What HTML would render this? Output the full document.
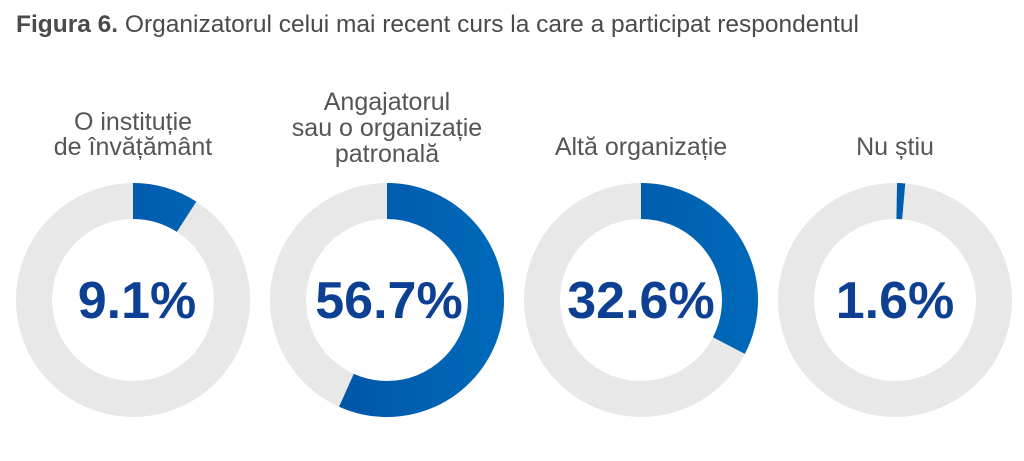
<!DOCTYPE html>
<html><head><meta charset="utf-8"><style>
body{margin:0;background:#fff;width:1024px;height:456px;overflow:hidden;font-family:"Liberation Sans",Arial,sans-serif}
</style></head><body>
<svg width="1024" height="456" xmlns="http://www.w3.org/2000/svg" font-family="Liberation Sans, Arial, sans-serif">
<defs><linearGradient id="g" x1="0" y1="0" x2="0" y2="1"><stop offset="0" stop-color="#0050a4"/><stop offset="1" stop-color="#0068b8"/></linearGradient></defs>
<text x="16" y="32" font-size="24.5" fill="#4a4a4a"><tspan font-weight="bold">Figura 6.</tspan> Organizatorul celui mai recent curs la care a participat respondentul</text>
<g font-size="25" fill="#555" text-anchor="middle">
<text x="133" y="130">O instituție</text><text x="133" y="155">de învățământ</text>
<text x="387" y="110">Angajatorul</text><text x="387" y="136">sau o organizație</text><text x="387" y="162">patronală</text>
<text x="641" y="155">Altă organizație</text>
<text x="895" y="155">Nu știu</text>
</g>
<g fill="none" stroke-width="36">
<circle cx="133" cy="300" r="99" stroke="#e8e8e8"/>
<circle cx="387" cy="300" r="99" stroke="#e8e8e8"/>
<circle cx="641" cy="300" r="99" stroke="#e8e8e8"/>
<circle cx="895" cy="300" r="99" stroke="#e8e8e8"/>
<circle cx="133" cy="300" r="99" stroke="url(#g)" stroke-dasharray="56.6 622" transform="rotate(-90 133 300)"/>
<circle cx="387" cy="300" r="99" stroke="url(#g)" stroke-dasharray="352.7 622" transform="rotate(-90 387 300)"/>
<circle cx="641" cy="300" r="99" stroke="url(#g)" stroke-dasharray="202.8 622" transform="rotate(-90 641 300)"/>
<circle cx="895" cy="300" r="99" stroke="url(#g)" stroke-dasharray="7 622" transform="rotate(-89 895 300)"/>
</g>
<g font-size="52" font-weight="bold" fill="#0d3f93" text-anchor="middle">
<text x="137" y="318">9.1%</text>
<text x="389" y="318">56.7%</text>
<text x="641" y="318">32.6%</text>
<text x="895" y="318">1.6%</text>
</g>
</svg>
</body></html>
